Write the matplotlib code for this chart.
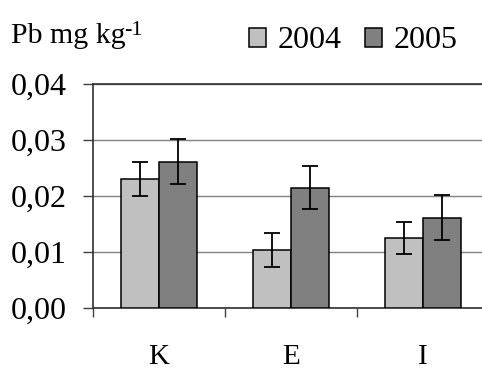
import numpy as np
import matplotlib
matplotlib.use('Agg')
import matplotlib.pyplot as plt
from matplotlib.patches import Rectangle

plt.rcParams['font.family'] = ['Liberation Serif', 'DejaVu Serif']

# data
sites = ['K', 'E', 'I']
years = ['2004', '2005']
pb_2004 = [0.0230, 0.0104, 0.0125]
pb_2005 = [0.0261, 0.0215, 0.0161]
err_2004 = [0.0030, 0.0030, 0.0029]
err_2005 = [0.0040, 0.0039, 0.0040]
yticks = [0.00, 0.01, 0.02, 0.03, 0.04]
ytick_labels = ['0,00', '0,01', '0,02', '0,03', '0,04']

W, H = 482, 368
fig = plt.figure(figsize=(W / 100, H / 100), dpi=100)
# axes runs past the right edge, as in the original
ax = fig.add_axes([93 / W, 60 / H, 396 / W, 224 / H])

x = np.arange(len(sites))
bw = 0.29
kw = dict(edgecolor='black', linewidth=1.1, zorder=3,
          error_kw=dict(ecolor='black', elinewidth=1.3, capthick=1.3, capsize=5.6, zorder=4))
ax.bar(x - bw / 2, pb_2004, bw, yerr=err_2004, color='#c0c0c0', **kw)
ax.bar(x + bw / 2, pb_2005, bw, yerr=err_2005, color='#808080', **kw)

ax.set_xlim(-0.5, len(sites) - 0.5)
ax.set_ylim(0, 0.04)
ax.set_yticks(yticks)
ax.set_yticklabels(ytick_labels)
ax.yaxis.grid(True, color='#808080', linewidth=1.0, zorder=0)
ax.set_axisbelow(True)

ax.set_xticks(x)
ax.set_xticklabels(sites)
ax.set_xticks(np.arange(len(sites) + 1) - 0.5, minor=True)
ax.tick_params(axis='x', which='major', length=0, pad=26, labelsize=21)
ax.tick_params(axis='x', which='minor', length=6.5, width=1, color='#404040', direction='out')
ax.tick_params(axis='y', length=7, width=1, color='#404040', pad=12, labelsize=23)

for s in ['left', 'bottom', 'top']:
    ax.spines[s].set_color('#303030')
    ax.spines[s].set_linewidth(1.2)
ax.spines['right'].set_visible(False)

fig.text(11 / W, 1 - 43 / H, 'Pb mg kg', fontsize=21.5, va='baseline', ha='left')
fig.text(124 / W, 1 - 35 / H, '-1', fontsize=16, va='baseline', ha='left')

handles = [Rectangle((0, 0), 1, 1, facecolor='#c0c0c0', edgecolor='black', linewidth=1.1),
           Rectangle((0, 0), 1, 1, facecolor='#808080', edgecolor='black', linewidth=1.1)]
fig.legend(handles, years, loc='center left', bbox_to_anchor=(249 / W, 1 - 41 / H),
           ncol=2, frameon=False, fontsize=23, handlelength=0.53, handleheight=0.53,
           handletextpad=0.37, columnspacing=0.72, borderpad=0, borderaxespad=0)

fig.savefig('out.png', dpi=100)
